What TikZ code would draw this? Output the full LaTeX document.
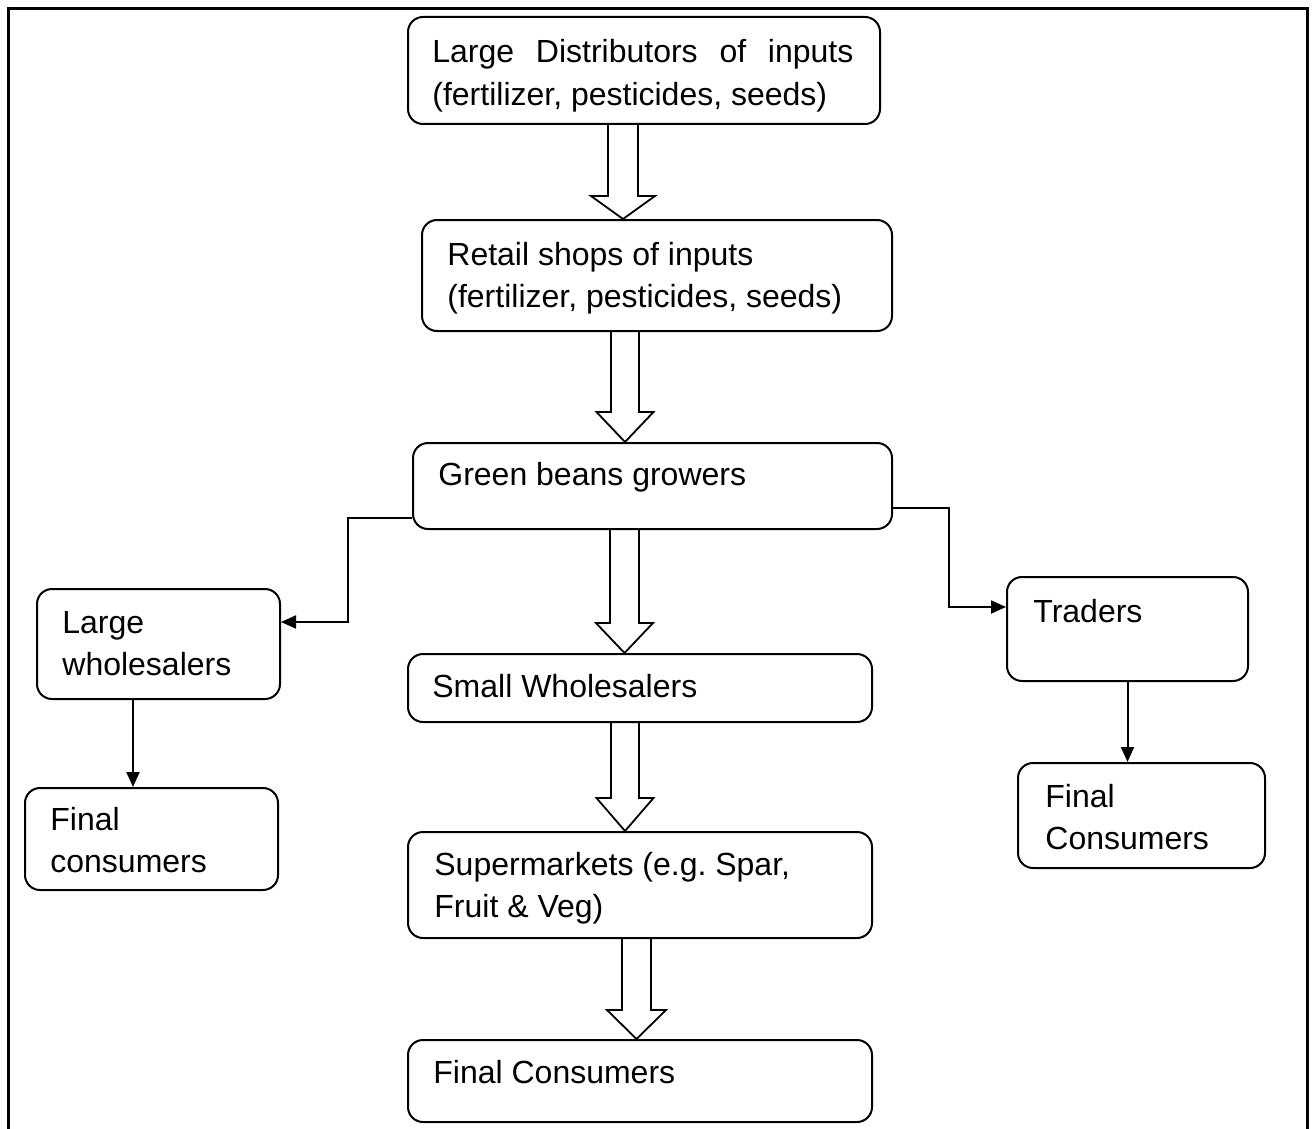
\documentclass[tikz,border=0pt]{standalone}
\usepackage{fontspec}
\setmainfont{Liberation Sans}
\usetikzlibrary{arrows.meta,calc,fit}
\newcommand\blockarrow[6]{% from, to, centre x, shaft half width, head half width, head length (px)
  \draw[harrow] let \p1=(#1.south), \p2=(#2.north) in
    ({(#3-#4)*0.5pt},\y1) -- ({(#3-#4)*0.5pt},{\y2+#6*0.5pt})
    -- ({(#3-#5)*0.5pt},{\y2+#6*0.5pt}) -- ({#3*0.5pt},\y2)
    -- ({(#3+#5)*0.5pt},{\y2+#6*0.5pt}) -- ({(#3+#4)*0.5pt},{\y2+#6*0.5pt})
    -- ({(#3+#4)*0.5pt},\y1);}
\begin{document}
\begin{tikzpicture}[x=0.5pt,y=-0.5pt,
  box/.style={draw,line width=1pt,rounded corners=7.5pt,inner sep=0pt},
  txt/.style={anchor=base west,inner sep=0pt,font=\fontsize{16}{21}\selectfont},
  conn/.style={line width=1pt,-{Triangle[length=7.5pt,width=6.5pt]}},
  harrow/.style={line width=0.9pt,line join=miter},
  frameline/.style={line width=1.5pt}]
\useasboundingbox (0,0) rectangle (1312,1129);
% outer frame
\draw[frameline] (8.5,1129) -- (8.5,9) -- (1307.5,9) -- (1307.5,1129);
% boxes
\node[box,fit={(408,17)(880,124)}] (b1) {};
\node[box,fit={(422,220)(892,331)}] (b2) {};
\node[box,fit={(413,443)(892,529)}] (b3) {};
\node[box,fit={(408,654)(872,722)}] (b4) {};
\node[box,fit={(408,832)(872,938)}] (b5) {};
\node[box,fit={(408,1040)(872,1122)}] (b6) {};
\node[box,fit={(37,589)(280,699)}] (lw) {};
\node[box,fit={(25,788)(278,890)}] (fcL) {};
\node[box,fit={(1007,577)(1248,681)}] (tr) {};
\node[box,fit={(1018,763)(1265,868)}] (fcR) {};
% texts
\node[txt] (t1) at (432,63) {\begin{tabular}[t]{@{}l@{}}\makebox[210.5pt][s]{Large Distributors of inputs}\\(fertilizer, pesticides, seeds)\end{tabular}};
\node[txt] (t2) at (447,265) {\begin{tabular}[t]{@{}l@{}}Retail shops of inputs\\(fertilizer, pesticides, seeds)\end{tabular}};
\node[txt] (t3) at (438,485) {Green beans growers};
\node[txt] (t4) at (432,697) {Small Wholesalers};
\node[txt] (t5) at (434,875) {\begin{tabular}[t]{@{}l@{}}Supermarkets (e.g.\ Spar,\\Fruit \& Veg)\end{tabular}};
\node[txt] (t6) at (433,1083) {Final Consumers};
\node[txt] (tlw) at (62,633) {\begin{tabular}[t]{@{}l@{}}Large\\wholesalers\end{tabular}};
\node[txt] (tfcL) at (50,830) {\begin{tabular}[t]{@{}l@{}}Final\\consumers\end{tabular}};
\node[txt] (ttr) at (1033,622) {Traders};
\node[txt] (tfcR) at (1045,807) {\begin{tabular}[t]{@{}l@{}}Final\\Consumers\end{tabular}};
% hollow block arrows
\blockarrow{b1}{b2}{623}{15}{32}{23}
\blockarrow{b2}{b3}{625}{14}{28.5}{30}
\blockarrow{b3}{b4}{624.5}{14.5}{28.5}{30}
\blockarrow{b4}{b5}{625}{14}{28.5}{33}
\blockarrow{b5}{b6}{636.5}{14.5}{29.5}{29}
% elbow connectors
\coordinate (cl) at (348,0);
\coordinate (cr) at (949,0);
\coordinate (cv) at (133,0);
\coordinate (gL) at ([yshift=-16pt]b3.west);
\coordinate (lwin) at ([yshift=11pt]lw.east);
\coordinate (gR) at ([yshift=-11pt]b3.east);
\coordinate (trin) at ([yshift=11pt]tr.west);
\draw[conn] (gL) -- (gL -| cl) -- (lwin -| cl) -- (lwin);
\draw[conn] (gR) -- (gR -| cr) -- (trin -| cr) -- (trin);
\draw[conn] (lw.south -| cv) -- (fcL.north -| cv);
\draw[conn] (tr.south) -- (tr.south |- fcR.north);
\end{tikzpicture}
\end{document}
